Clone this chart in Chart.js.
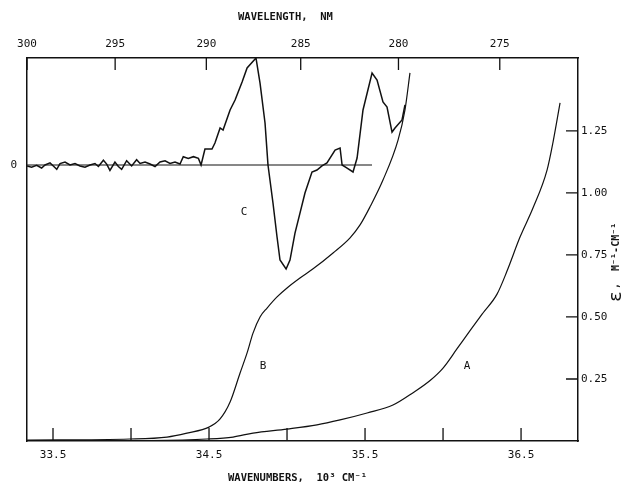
<!DOCTYPE html>
<html lang="en">
<head>
<meta charset="UTF-8">
<title>Absorption and CD spectra</title>
<script src="https://cdn.jsdelivr.net/npm/chart.js"></script>
<style>
  body { margin: 0; background: #fff; }
  #wrap { width: 635px; height: 490px; position: relative; }
</style>
</head>
<body>
<div id="wrap"><canvas id="spec"></canvas></div>
<script>
// wavenumbers are in 10^3 cm-1, epsilon in M-1 cm-1
const waveA = [33.334, 34.122, 34.487, 34.654, 34.782, 35.0, 35.192, 35.340, 35.513, 35.679, 35.808, 35.917, 36.0, 36.090, 36.173, 36.256, 36.346, 36.410, 36.494, 36.577, 36.667, 36.705, 36.750];
const epsA  = [0.0, 0.002, 0.008, 0.016, 0.032, 0.048, 0.065, 0.085, 0.113, 0.145, 0.195, 0.244, 0.294, 0.372, 0.445, 0.516, 0.592, 0.685, 0.823, 0.940, 1.093, 1.205, 1.363];

const waveB = [33.334, 33.994, 34.231, 34.359, 34.5, 34.571, 34.635, 34.699, 34.744, 34.782, 34.827, 34.872, 34.936, 35.0, 35.083, 35.167, 35.295, 35.404, 35.468, 35.532, 35.615, 35.712, 35.756, 35.788];
const epsB  = [0.004, 0.008, 0.016, 0.032, 0.056, 0.089, 0.157, 0.274, 0.355, 0.435, 0.500, 0.536, 0.581, 0.617, 0.657, 0.694, 0.758, 0.819, 0.871, 0.944, 1.052, 1.214, 1.335, 1.484];

// CD trace, arbitrary units (0 = baseline)
const waveC = [33.334, 33.363, 33.395, 33.427, 33.449, 33.481, 33.502, 33.524, 33.545, 33.577, 33.609, 33.641, 33.673, 33.705, 33.737, 33.769, 33.791, 33.823, 33.844, 33.865, 33.897, 33.919, 33.940, 33.972, 34.004, 34.036, 34.058, 34.090, 34.122, 34.154, 34.186, 34.218, 34.250, 34.282, 34.314, 34.335, 34.367, 34.400, 34.432, 34.449,
  34.474, 34.519, 34.538, 34.571, 34.590, 34.635, 34.667, 34.712, 34.744, 34.801, 34.827, 34.859, 34.878, 34.910, 34.936, 34.955, 34.994, 35.019, 35.051, 35.083, 35.115, 35.160, 35.192, 35.224, 35.256, 35.308, 35.340, 35.353, 35.385, 35.423, 35.449, 35.487, 35.545, 35.577, 35.615, 35.641, 35.673, 35.692, 35.737, 35.756];
const cdC   = [-0.009, -0.020, -0.003, -0.028, 0.0, 0.020, -0.009, -0.040, 0.014, 0.028, 0.0, 0.014, -0.009, -0.020, 0.0, 0.014, -0.014, 0.045, 0.009, -0.050, 0.028, -0.014, -0.040, 0.040, -0.009, 0.050, 0.014, 0.028, 0.009, -0.014, 0.028, 0.040, 0.014, 0.028, 0.009, 0.078, 0.062, 0.078, 0.062, 0.0,
  0.150, 0.150, 0.206, 0.346, 0.327, 0.514, 0.607, 0.776, 0.907, 1.0, 0.766, 0.393, 0.0, -0.355, -0.673, -0.888, -0.972, -0.888, -0.636, -0.449, -0.262, -0.065, -0.047, -0.009, 0.019, 0.140, 0.159, 0.0, -0.028, -0.065, 0.065, 0.514, 0.860, 0.794, 0.589, 0.542, 0.308, 0.346, 0.421, 0.561];
const zeroLineEnd = 35.545;

const bottomTicks  = [33.5, 34.0, 34.5, 35.0, 35.5, 36.0, 36.5];
const bottomLabels = ['33.5', '', '34.5', '', '35.5', '', '36.5'];
const topTicksNm   = [300, 295, 290, 285, 280, 275];
const epsTicks     = [0.25, 0.50, 0.75, 1.00, 1.25];
const curveNames   = ['A', 'B', 'C'];
const nameWave     = [36.154, 34.846, 34.724];
const nameEps      = [0.302, 0.302, 0.923];

const pts = (xs, ys) => xs.map((x, i) => ({ x: x, y: ys[i] }));
const mono = "'DejaVu Sans Mono', monospace";
const ink = '#111';

// inward tick marks + titles + curve names
const decor = {
  id: 'decor',
  afterDraw(chart) {
    const ctx = chart.ctx;
    const { x, x2, y } = chart.scales;
    const area = chart.chartArea;
    ctx.save();
    ctx.strokeStyle = ink;
    ctx.lineWidth = 1.3;
    ctx.beginPath();
    x.ticks.forEach(t => {
      const px = x.getPixelForValue(t.value);
      ctx.moveTo(px, area.bottom); ctx.lineTo(px, area.bottom - 13);
    });
    x2.ticks.forEach(t => {
      const px = x2.getPixelForValue(t.value);
      ctx.moveTo(px, area.top); ctx.lineTo(px, area.top + 12);
    });
    y.ticks.forEach(t => {
      const py = y.getPixelForValue(t.value);
      ctx.moveTo(area.right, py); ctx.lineTo(area.right - 12, py);
    });
    ctx.stroke();

    ctx.fillStyle = ink;
    ctx.textBaseline = 'middle';
    ctx.font = 'bold 10.5px ' + mono;
    ctx.textAlign = 'left';
    ctx.fillText('WAVELENGTH,  NM', 238, 17);
    ctx.fillText('WAVENUMBERS,  10³ CM⁻¹', 228, 478);

    ctx.font = '11px ' + mono;
    ctx.textAlign = 'center';
    curveNames.forEach((n, i) => {
      ctx.fillText(n, x.getPixelForValue(nameWave[i]), y.getPixelForValue(nameEps[i]));
    });

    // right axis title, reads bottom to top
    ctx.translate(616, 262);
    ctx.rotate(-Math.PI / 2);
    ctx.textAlign = 'left';
    ctx.font = '18px ' + mono;
    ctx.fillText('ε', -40, 0);
    ctx.font = 'bold 10px ' + mono;
    ctx.fillText(',  M⁻¹-CM⁻¹', -27, 0);
    ctx.restore();
  }
};

new Chart(document.getElementById('spec'), {
  type: 'line',
  data: {
    datasets: [
      { label: 'A', data: pts(waveA, epsA), yAxisID: 'y', borderColor: ink, borderWidth: 1.2, pointRadius: 0, cubicInterpolationMode: 'monotone' },
      { label: 'B', data: pts(waveB, epsB), yAxisID: 'y', borderColor: ink, borderWidth: 1.2, pointRadius: 0, cubicInterpolationMode: 'monotone' },
      { label: 'C', data: pts(waveC, cdC), yAxisID: 'yC', borderColor: ink, borderWidth: 1.5, pointRadius: 0, tension: 0 },
      { label: 'C zero', data: pts([waveC[0], zeroLineEnd], [0, 0]), yAxisID: 'yC', borderColor: ink, borderWidth: 1.2, pointRadius: 0 }
    ]
  },
  options: {
    responsive: true,
    maintainAspectRatio: false,
    animation: false,
    layout: { padding: 0 },
    plugins: { legend: { display: false }, tooltip: { enabled: false } },
    scales: {
      x: {
        type: 'linear', position: 'bottom', min: 1e4 / 300, max: 36.865,
        afterBuildTicks: s => { s.ticks = bottomTicks.map(v => ({ value: v })); },
        afterFit: s => { s.height = 49; },
        ticks: { autoSkip: false, maxRotation: 0, padding: 8, color: ink, font: { family: mono, size: 11 },
          callback: (v, i) => bottomLabels[i] },
        grid: { display: false, drawTicks: false },
        border: { display: true, color: ink, width: 1.5 }
      },
      x2: {
        type: 'linear', position: 'top', min: 1e4 / 300, max: 36.865,
        afterBuildTicks: s => { s.ticks = topTicksNm.map(nm => ({ value: 1e4 / nm })); },
        afterFit: s => { s.height = 58; },
        ticks: { autoSkip: false, maxRotation: 0, padding: 7, color: ink, font: { family: mono, size: 11 },
          callback: v => String(Math.round(1e4 / v)) },
        grid: { display: false, drawTicks: false },
        border: { display: true, color: ink, width: 1.5 }
      },
      y: {
        type: 'linear', position: 'right', min: 0, max: 1.544,
        afterBuildTicks: s => { s.ticks = epsTicks.map(v => ({ value: v })); },
        afterFit: s => { s.width = 57; },
        ticks: { autoSkip: false, padding: 3, color: ink, font: { family: mono, size: 11 },
          callback: v => v.toFixed(2) },
        grid: { display: false, drawTicks: false },
        border: { display: true, color: ink, width: 1.5 }
      },
      yC: {
        type: 'linear', position: 'left', min: -2.579, max: 1.0,
        afterBuildTicks: s => { s.ticks = [{ value: 0 }]; },
        afterFit: s => { s.width = 27; },
        ticks: { autoSkip: false, padding: 10, color: ink, font: { family: mono, size: 11 },
          callback: v => String(v) },
        grid: { display: false, drawTicks: false },
        border: { display: true, color: ink, width: 1.5 }
      }
    }
  },
  plugins: [decor]
});
</script>
</body>
</html>
